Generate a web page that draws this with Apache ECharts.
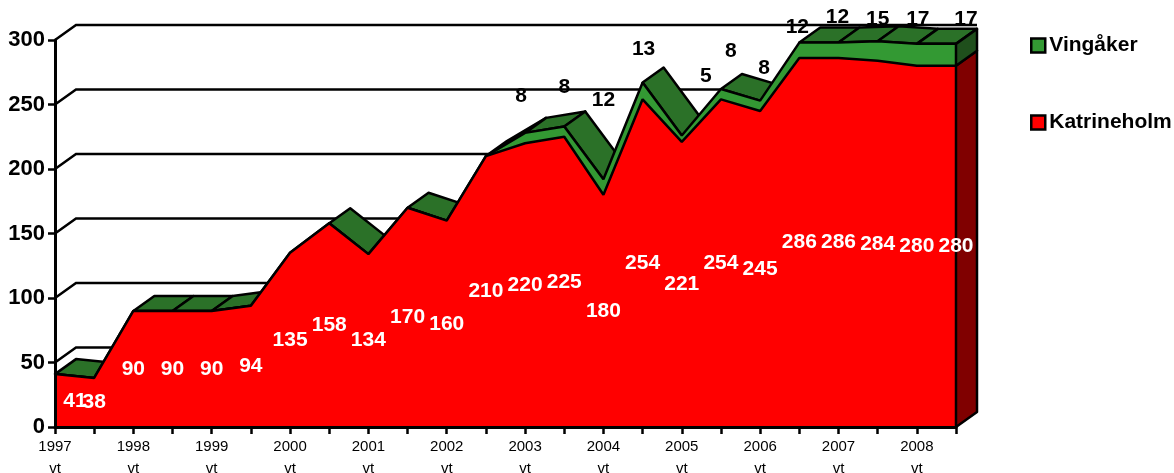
<!DOCTYPE html>
<html>
<head>
<meta charset="utf-8">
<title>Katrineholm och Vingåker</title>
<style>
  html, body { margin: 0; padding: 0; background: #fff; }
  #chart { width: 1174px; height: 473px; }
</style>
<script src="https://cdn.jsdelivr.net/npm/echarts@6/dist/echarts.min.js"></script>
</head>
<body>
<div id="chart"></div>
<script>
const categories = [
  '1997 vt', '1997 ht', '1998 vt', '1998 ht', '1999 vt', '1999 ht',
  '2000 vt', '2000 ht', '2001 vt', '2001 ht', '2002 vt', '2002 ht',
  '2003 vt', '2003 ht', '2004 vt', '2004 ht', '2005 vt', '2005 ht',
  '2006 vt', '2006 ht', '2007 vt', '2007 ht', '2008 vt', '2008 ht'
]
const katrineholm = [41, 38, 90, 90, 90, 94, 135, 158, 134, 170, 160, 210, 220, 225, 180, 254, 221, 254, 245, 286, 286, 284, 280, 280]
const vingaker = [0, 0, 0, 0, 0, 0, 0, 0, 0, 0, 0, 0, 8, 8, 12, 13, 5, 8, 8, 12, 12, 15, 17, 17]
const yTicks = [0, 50, 100, 150, 200, 250, 300]

// hand placed labels in the original, [dx, dy] in pixels
const katNudge = { 0: [20, 1] }
const vinNudge = {
  12: [-4, -37], 13: [0, -39], 14: [0, -79], 15: [1, -33], 16: [24, -59],
  17: [10, -38], 18: [4, -32], 19: [-2, -15], 20: [-1, -25], 21: [0, -22],
  22: [1, -25], 23: [10, -25]
}

// depth of the fake 3d box
const DX = 21
const DY = -15
const LINE = 2.5
const lastIdx = categories.length - 1
const tops = katrineholm.map((v, i) => v + vingaker[i])

const chart = echarts.init(document.getElementById('chart'))

function poly (points, fill) {
  return {
    type: 'polygon',
    shape: { points: points },
    style: { fill: fill, stroke: '#000', lineWidth: LINE, lineJoin: 'round' }
  }
}

// back wall lines and the diagonals on the left side
function renderWalls (params, api) {
  const children = []
  yTicks.forEach(t => {
    const a = api.coord([0, t])
    const b = api.coord([lastIdx, t])
    if (t > 0) {
      children.push({
        type: 'polyline',
        shape: { points: [a, [a[0] + DX, a[1] + DY], [b[0] + DX, b[1] + DY]] },
        style: { fill: null, stroke: '#000', lineWidth: LINE }
      })
    }
  })
  return { type: 'group', children: children }
}

// top face of the upper series, skipped where the slope faces away
function renderTopFace (params, api) {
  const i = params.dataIndex
  if (i >= lastIdx) return null
  const a = api.coord([i, tops[i]])
  const b = api.coord([i + 1, tops[i + 1]])
  const facingAway = (a[1] - b[1]) / (b[0] - a[0]) > -DY / DX
  if (facingAway) return null
  return poly([a, b, [b[0] + DX, b[1] + DY], [a[0] + DX, a[1] + DY]], '#2b7128')
}

// right hand end of the box
function renderSide (params, api) {
  const base = api.coord([lastIdx, 0])
  const red = api.coord([lastIdx, katrineholm[lastIdx]])
  const top = api.coord([lastIdx, tops[lastIdx]])
  const shift = p => [p[0] + DX, p[1] + DY]
  return {
    type: 'group',
    children: [
      poly([base, red, shift(red), shift(base)], '#800000'),
      poly([red, top, shift(top), shift(red)], '#1f4f1c')
    ]
  }
}

function renderLabels (values, heights, nudge, color) {
  return function (params, api) {
    const i = params.dataIndex
    if (!values[i]) return null
    const p = api.coord([i, heights(i)])
    const n = nudge[i] || [0, 0]
    return {
      type: 'text',
      x: p[0] + n[0],
      y: p[1] + n[1],
      style: {
        text: String(values[i]),
        fill: color,
        font: 'bold 21px "Liberation Sans", Arial, sans-serif',
        textAlign: 'center',
        textVerticalAlign: 'middle'
      }
    }
  }
}

const indexData = categories.map((c, i) => i)

const option = {
  animation: false,
  backgroundColor: '#fff',
  textStyle: { fontFamily: '"Liberation Sans", Arial, sans-serif' },
  grid: { left: 55, right: 218, top: 40, bottom: 46, containLabel: false, outerBoundsMode: 'none' },
  legend: {
    orient: 'vertical',
    left: 1030,
    top: 35,
    padding: 0,
    itemGap: 56,
    itemWidth: 14,
    itemHeight: 14,
    selectedMode: false,
    lineStyle: { width: 0 },
    textStyle: { fontSize: 21, fontWeight: 'bold', color: '#000', padding: [0, 0, 0, -1] },
    data: [
      { name: 'Vingåker', icon: 'rect', itemStyle: { color: '#339933', borderColor: '#000', borderWidth: 2.5 } },
      { name: 'Katrineholm', icon: 'rect', itemStyle: { color: '#ff0000', borderColor: '#000', borderWidth: 2.5 } }
    ]
  },
  xAxis: {
    type: 'category',
    boundaryGap: false,
    data: categories,
    z: 10,
    axisLine: { lineStyle: { color: '#000', width: 3 } },
    axisTick: { interval: 0, length: 7, lineStyle: { color: '#000', width: 2.5 } },
    axisLabel: {
      interval: i => i % 2 === 0,
      margin: 9,
      fontSize: 15,
      lineHeight: 22,
      color: '#000',
      formatter: v => v.replace(' ', '\n')
    }
  },
  yAxis: {
    type: 'value',
    min: 0,
    max: 300,
    interval: 50,
    z: 10,
    splitLine: { show: false },
    axisLine: { show: true, lineStyle: { color: '#000', width: 3 } },
    axisTick: { show: true, length: 7, lineStyle: { color: '#000', width: 2.5 } },
    axisLabel: { margin: 10, fontSize: 22, fontWeight: 'bold', color: '#000' }
  },
  series: [
    { type: 'custom', name: 'walls', z: 1, silent: true, renderItem: renderWalls, data: [0] },
    { type: 'custom', name: 'topFace', z: 1, silent: true, renderItem: renderTopFace, data: indexData },
    {
      type: 'line',
      name: 'Katrineholm',
      stack: 'total',
      z: 3,
      data: katrineholm,
      showSymbol: false,
      lineStyle: { color: '#000', width: LINE },
      itemStyle: { color: '#ff0000' },
      areaStyle: { color: '#ff0000', opacity: 1 }
    },
    {
      type: 'line',
      name: 'Vingåker',
      stack: 'total',
      z: 2,
      data: vingaker,
      showSymbol: false,
      lineStyle: { color: '#000', width: LINE },
      itemStyle: { color: '#339933' },
      areaStyle: { color: '#339933', opacity: 1 }
    },
    { type: 'custom', name: 'side', z: 4, silent: true, renderItem: renderSide, data: [0] },
    {
      type: 'custom',
      name: 'katLabels',
      z: 6,
      silent: true,
      renderItem: renderLabels(katrineholm, i => katrineholm[i] / 2, katNudge, '#fff'),
      data: indexData
    },
    {
      type: 'custom',
      name: 'vinLabels',
      z: 6,
      silent: true,
      renderItem: renderLabels(vingaker, i => tops[i], vinNudge, '#000'),
      data: indexData
    }
  ]
}

chart.setOption(option)
</script>
</body>
</html>
